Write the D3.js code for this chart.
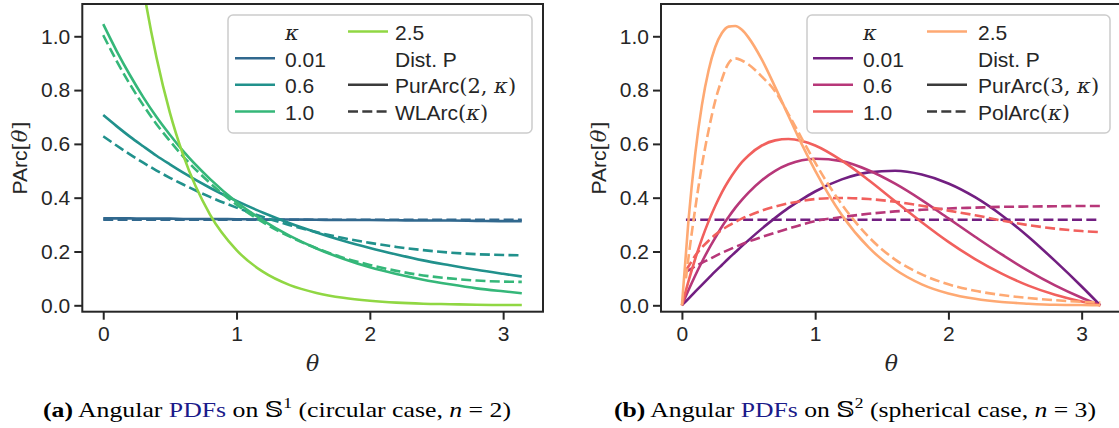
<!DOCTYPE html>
<meta charset="utf-8">
<html>
<head>
<script src="https://d3js.org/d3.v7.min.js"></script>
<style>
  body { margin: 0; background: #fff; }
  svg text { fill: #262626; }
  .tick text { font-family: "Liberation Sans", Arial, sans-serif; font-size: 21px; }
  .sans { font-family: "Liberation Sans", Arial, sans-serif; }
  .math { font-family: "DejaVu Serif", "Liberation Serif", serif; }
  .caption { font-family: "Liberation Serif", "DejaVu Serif", serif; fill: #000 !important; }
</style>
</head>
<body>
<svg id="fig" width="1119" height="428"></svg>
<script>
// ---- data ----
const kappas = ["0.01", "0.6", "1.0", "2.5"];
const xTicks = [0, 1, 2, 3];
const yTicks = [0.0, 0.2, 0.4, 0.6, 0.8, 1.0];

// panel (a): circle, PurArc(2,k) solid / WLArc(k) dashed
const thetaA = [0, 0.1, 0.2, 0.3, 0.4, 0.5, 0.6, 0.8, 1.0, 1.2, 1.4, 1.6, 1.8, 2.0, 2.2, 2.4, 2.6, 2.8, 3.0, 3.14];
const purA_001 = [0.323, 0.323, 0.323, 0.322, 0.322, 0.322, 0.321, 0.321, 0.320, 0.319, 0.319, 0.318, 0.317, 0.317, 0.316, 0.315, 0.315, 0.314, 0.313, 0.313];
const purA_06  = [0.707, 0.666, 0.627, 0.591, 0.556, 0.524, 0.493, 0.437, 0.388, 0.344, 0.305, 0.271, 0.240, 0.213, 0.189, 0.167, 0.149, 0.132, 0.117, 0.107];
const purA_10  = [1.045, 0.946, 0.856, 0.774, 0.700, 0.634, 0.573, 0.470, 0.384, 0.315, 0.258, 0.211, 0.173, 0.141, 0.116, 0.095, 0.078, 0.063, 0.052, 0.045];
const purA_25  = [2.500, 1.947, 1.516, 1.181, 0.920, 0.716, 0.558, 0.338, 0.205, 0.124, 0.075, 0.046, 0.028, 0.017, 0.010, 0.006, 0.004, 0.002, 0.001, 0.001];
const wlA_001  = [0.318, 0.318, 0.318, 0.318, 0.318, 0.318, 0.318, 0.318, 0.318, 0.318, 0.318, 0.318, 0.318, 0.318, 0.318, 0.318, 0.318, 0.318, 0.318, 0.318];
const wlA_06   = [0.628, 0.594, 0.561, 0.530, 0.501, 0.474, 0.449, 0.403, 0.363, 0.328, 0.298, 0.272, 0.250, 0.232, 0.217, 0.205, 0.196, 0.190, 0.187, 0.186];
const wlA_10   = [1.004, 0.909, 0.822, 0.744, 0.673, 0.611, 0.553, 0.455, 0.374, 0.308, 0.255, 0.212, 0.177, 0.150, 0.128, 0.111, 0.100, 0.092, 0.088, 0.087];

// panel (b): sphere, PurArc(3,k) solid / PolArc(k) dashed
const thetaB = [0, 0.05, 0.1, 0.15, 0.2, 0.25, 0.3, 0.35, 0.4, 0.45, 0.5, 0.6, 0.7, 0.8, 0.9, 1.0, 1.2, 1.4, 1.6, 1.8, 2.0, 2.2, 2.4, 2.6, 2.8, 3.0, 3.14];
const purB_001 = [0, 0.025, 0.051, 0.076, 0.101, 0.126, 0.150, 0.174, 0.197, 0.220, 0.242, 0.285, 0.325, 0.362, 0.394, 0.423, 0.468, 0.494, 0.500, 0.486, 0.453, 0.402, 0.335, 0.255, 0.165, 0.070, 0];
const purB_06  = [0, 0.057, 0.111, 0.161, 0.208, 0.251, 0.292, 0.328, 0.362, 0.392, 0.419, 0.465, 0.500, 0.524, 0.539, 0.545, 0.536, 0.502, 0.452, 0.391, 0.323, 0.255, 0.189, 0.128, 0.074, 0.028, 0];
const purB_10  = [0, 0.091, 0.173, 0.247, 0.312, 0.369, 0.420, 0.463, 0.500, 0.532, 0.557, 0.594, 0.613, 0.618, 0.611, 0.594, 0.538, 0.466, 0.387, 0.309, 0.236, 0.172, 0.118, 0.073, 0.039, 0.014, 0];
const purB_25  = [0, 0.320, 0.563, 0.744, 0.873, 0.960, 1.012, 1.036, 1.038, 1.024, 0.995, 0.913, 0.811, 0.704, 0.598, 0.501, 0.336, 0.216, 0.133, 0.078, 0.044, 0.024, 0.012, 0.006, 0.002, 0.001, 0];
const thetaBd = [0.03, 0.05, 0.1, 0.15, 0.2, 0.25, 0.3, 0.35, 0.4, 0.45, 0.5, 0.6, 0.7, 0.8, 0.9, 1.0, 1.2, 1.4, 1.6, 1.8, 2.0, 2.2, 2.4, 2.6, 2.8, 3.0, 3.14];
const polB_001 = [0.318, 0.318, 0.318, 0.318, 0.318, 0.318, 0.318, 0.318, 0.318, 0.318, 0.318, 0.318, 0.318, 0.318, 0.318, 0.318, 0.318, 0.318, 0.318, 0.318, 0.318, 0.318, 0.318, 0.318, 0.318, 0.318, 0.318];
const polB_06  = [0.125, 0.130, 0.145, 0.158, 0.170, 0.183, 0.195, 0.206, 0.217, 0.227, 0.237, 0.254, 0.270, 0.285, 0.300, 0.313, 0.328, 0.340, 0.349, 0.355, 0.360, 0.363, 0.366, 0.367, 0.368, 0.369, 0.369];
const polB_10  = [0.130, 0.145, 0.185, 0.215, 0.240, 0.262, 0.280, 0.296, 0.310, 0.322, 0.333, 0.352, 0.367, 0.379, 0.388, 0.395, 0.399, 0.395, 0.385, 0.370, 0.352, 0.335, 0.315, 0.298, 0.285, 0.276, 0.272];
const polB_25  = [0.100, 0.180, 0.360, 0.520, 0.650, 0.760, 0.840, 0.900, 0.918, 0.910, 0.895, 0.850, 0.795, 0.710, 0.620, 0.530, 0.375, 0.255, 0.170, 0.115, 0.078, 0.054, 0.038, 0.027, 0.019, 0.013, 0.010];

const viridis4 = ["#31688e", "#21918c", "#35b779", "#90d743"];
const magma4   = ["#721f81", "#b73779", "#f1605d", "#fea973"];

// ---- layout ----
const svg = d3.select("#fig");
const ink = "#262626";

function zip(xs, ys) { return xs.map((t, i) => [t, ys[i]]); }

function drawPanel(opt) {
  var x = d3.scaleLinear().domain([-0.157, 3.299]).range([opt.left, opt.right]);
  var y = d3.scaleLinear().domain([-0.0238, 1.12]).range([311.7, 4]);

  var clipId = "clip" + opt.id;
  svg.append("clipPath").attr("id", clipId)
    .append("rect")
    .attr("x", opt.left).attr("y", 4)
    .attr("width", opt.right - opt.left).attr("height", 311.7 - 4);

  var line = d3.line()
    .x(d => x(d[0]))
    .y(d => y(d[1]))
    .curve(d3.curveMonotoneX);

  var g = svg.append("g").attr("clip-path", "url(#" + clipId + ")");
  opt.series.forEach(s => {
    g.append("path")
      .attr("d", line(zip(s.t, s.v)))
      .attr("fill", "none")
      .attr("stroke", s.color)
      .attr("stroke-width", 2.6)
      .attr("stroke-linecap", "butt")
      .attr("stroke-dasharray", s.dash ? "10,4.3" : null);
  });

  // axes
  var yAxis = d3.axisLeft(y).tickValues(yTicks).tickFormat(d3.format(".1f"))
    .tickSize(8).tickPadding(4);
  var xAxis = d3.axisBottom(x).tickValues(xTicks).tickFormat(d3.format("d"))
    .tickSize(8).tickPadding(6);

  var ya = svg.append("g").attr("transform", "translate(" + opt.left + ",0)").call(yAxis);
  var xa = svg.append("g").attr("transform", "translate(0,311.7)").call(xAxis);
  [ya, xa].forEach(a => {
    a.select(".domain").remove();
    a.selectAll(".tick line").attr("stroke", ink).attr("stroke-width", 2);
    a.selectAll(".tick text").style("fill", ink);
  });

  // frame
  svg.append("rect")
    .attr("x", opt.left).attr("y", 4)
    .attr("width", opt.right - opt.left).attr("height", 311.7 - 4)
    .attr("fill", "none").attr("stroke", ink).attr("stroke-width", 2);

  // axis labels
  svg.append("text")
    .attr("class", "math")
    .attr("x", (opt.left + opt.right) / 2).attr("y", 371)
    .attr("text-anchor", "middle")
    .style("font-style", "italic").style("font-size", "22px")
    .text("θ");

  var yl = svg.append("text")
    .attr("transform", "translate(" + (opt.left - 55) + ",158) rotate(-90)")
    .attr("text-anchor", "middle")
    .style("font-size", "21px");
  yl.append("tspan").attr("class", "sans").text("PArc");
  yl.append("tspan").attr("class", "math").text("[");
  yl.append("tspan").attr("class", "math").style("font-style", "italic").text("θ");
  yl.append("tspan").attr("class", "math").text("]");

  // legend
  var L = opt.legend;
  svg.append("rect")
    .attr("x", L.x).attr("y", 15).attr("width", L.w).attr("height", 118)
    .attr("rx", 5)
    .attr("fill", "#fff").attr("fill-opacity", 0.8)
    .attr("stroke", "#cccccc").attr("stroke-width", 1.5);

  var rowY = [40, 66.7, 93.3, 120];
  var entries = [
    { col: 0, row: 0, label: "κ", math: true },
    { col: 0, row: 1, label: kappas[0], color: opt.colors[0] },
    { col: 0, row: 2, label: kappas[1], color: opt.colors[1] },
    { col: 0, row: 3, label: kappas[2], color: opt.colors[2] },
    { col: 1, row: 0, label: kappas[3], color: opt.colors[3] },
    { col: 1, row: 1, label: "Dist. P" },
    { col: 1, row: 2, label: opt.solidName, color: "#3b3b3b", parts: opt.solidParts },
    { col: 1, row: 3, label: opt.dashName, color: "#3b3b3b", dash: true, parts: opt.dashParts }
  ];
  entries.forEach(e => {
    var hx = L.hx[e.col], tx = L.tx[e.col], by = rowY[e.row];
    if (e.color) {
      svg.append("line")
        .attr("x1", hx).attr("x2", hx + 40)
        .attr("y1", by - 8.5).attr("y2", by - 8.5)
        .attr("stroke", e.color).attr("stroke-width", 2.6)
        .attr("stroke-dasharray", e.dash ? "10,4.3" : null);
    }
    var t = svg.append("text").attr("x", tx).attr("y", by).style("font-size", "21px");
    if (e.math) {
      t.attr("class", "math").style("font-style", "italic").text(e.label);
    } else if (e.parts) {
      e.parts.forEach(p => {
        t.append("tspan")
          .attr("class", p[1] ? "math" : "sans")
          .style("font-style", p[2] ? "italic" : null)
          .text(p[0]);
      });
    } else {
      t.attr("class", "sans").text(e.label);
    }
  });

  // caption
  var c = svg.append("text")
    .attr("class", "caption")
    .attr("x", opt.capX).attr("y", 417)
    .attr("text-anchor", "middle")
    .attr("textLength", opt.capW)
    .attr("lengthAdjust", "spacingAndGlyphs")
    .style("font-size", "22px");
  c.append("tspan").style("font-weight", "bold").style("fill", "#000").text("(" + opt.id + ")");
  c.append("tspan").style("fill", "#000").text(" Angular ");
  c.append("tspan").style("fill", "#1a1a8a").text("PDFs");
  c.append("tspan").style("fill", "#000").text(" on 𝕊");
  c.append("tspan").style("fill", "#000").style("font-size", "15px").attr("dy", -9).text(opt.sup);
  c.append("tspan").style("fill", "#000").attr("dy", 9).text(" (" + opt.capText + ", ");
  c.append("tspan").style("fill", "#000").style("font-style", "italic").text("n");
  c.append("tspan").style("fill", "#000").text(" = " + opt.n + ")");
}

drawPanel({
  id: "a", left: 82.3, right: 543,
  colors: viridis4,
  series: [
    { t: thetaA, v: purA_001, color: viridis4[0] },
    { t: thetaA, v: wlA_001, color: viridis4[0], dash: true },
    { t: thetaA, v: purA_06, color: viridis4[1] },
    { t: thetaA, v: wlA_06, color: viridis4[1], dash: true },
    { t: thetaA, v: purA_10, color: viridis4[2] },
    { t: thetaA, v: wlA_10, color: viridis4[2], dash: true },
    { t: thetaA, v: purA_25, color: viridis4[3] }
  ],
  legend: { x: 228, w: 304, hx: [235, 348], tx: [285, 395] },
  solidParts: [["PurArc"], ["(2, ", true], ["κ", true, true], [")", true]],
  dashParts: [["WLArc"], ["(", true], ["κ", true, true], [")", true]],
  capX: 277, capW: 468, sup: "1", capText: "circular case", n: 2
});

drawPanel({
  id: "b", left: 661, right: 1121.5,
  colors: magma4,
  series: [
    { t: thetaB, v: purB_001, color: magma4[0] },
    { t: thetaBd, v: polB_001, color: magma4[0], dash: true },
    { t: thetaB, v: purB_06, color: magma4[1] },
    { t: thetaBd, v: polB_06, color: magma4[1], dash: true },
    { t: thetaB, v: purB_10, color: magma4[2] },
    { t: thetaBd, v: polB_10, color: magma4[2], dash: true },
    { t: thetaB, v: purB_25, color: magma4[3] },
    { t: thetaBd, v: polB_25, color: magma4[3], dash: true }
  ],
  legend: { x: 807, w: 303, hx: [813, 927], tx: [863, 978] },
  solidParts: [["PurArc"], ["(3, ", true], ["κ", true, true], [")", true]],
  dashParts: [["PolArc"], ["(", true], ["κ", true, true], [")", true]],
  capX: 855, capW: 482, sup: "2", capText: "spherical case", n: 3
});
</script>
</body>
</html>
